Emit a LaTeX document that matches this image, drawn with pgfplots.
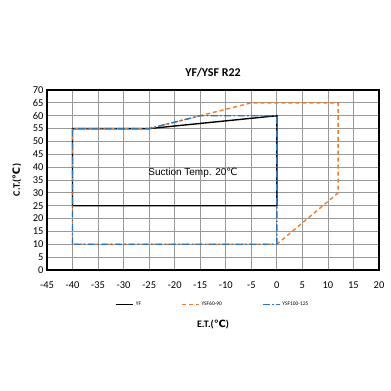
\documentclass[border=0pt]{standalone}
\usepackage{pgfplots}
\pgfplotsset{compat=1.18}
\usepackage{fontspec}
\setmainfont{Carlito}
\newfontfamily\arial{Liberation Sans}
\newfontfamily\dejavu{DejaVu Sans}
\newcommand\degC{{\dejavu ℃}}
\definecolor{xorange}{HTML}{ED7D31}
\definecolor{xblue}{HTML}{2E75B6}
\begin{document}
\begin{tikzpicture}[x=1bp,y=1bp]
\useasboundingbox (-47,-121) rectangle (344,270);
\begin{axis}[
  at={(0,0)}, anchor=south west,
  scale only axis, width=332bp, height=180bp,
  xmin=-45, xmax=20, ymin=0, ymax=70,
  xtick={-45,-40,...,20}, ytick={0,5,...,70},
  grid=major, major grid style={gray!80, line width=0.8pt},
  axis line style={black, line width=1.6pt},
  tick style={draw=none},
  ticklabel style={font=\fontsize{10.5}{12}\selectfont},
  xticklabel style={yshift=-8bp},
  /pgf/number format/assume math mode=true,
  legend columns=3,
  legend style={draw=none, fill=none, at={(0.5,-0.155)}, anchor=north, font=\fontsize{5.5}{6}\selectfont, /tikz/every even column/.append style={column sep=38bp}},
]
\addplot[black, line width=1.4pt] coordinates {(-40,25) (-40,55) (-25,55) (0,60) (0,25) (-40,25)};
\addlegendentry{YF}
\addplot[xorange, line width=1.4pt, dash pattern=on 4pt off 3pt] coordinates {(-40,10) (-40,55) (-25,55) (-5,65) (12,65) (12,30) (0,10) (-40,10)};
\addlegendentry{YSF60-90}
\addplot[xblue, line width=1.4pt, dash pattern=on 7pt off 2.5pt on 1.5pt off 2.5pt] coordinates {(-40,10) (-40,55) (-25,55) (-15,60) (0,60) (0,10) (-40,10)};
\addlegendentry{YSF100-125}
\end{axis}
\node[font=\bfseries\fontsize{12}{14}\selectfont] at (166,197) {YF/YSF R22};
\node[font=\arial\fontsize{10}{12}\selectfont] at (146,97) {Suction Temp. 20\degC};
\node[font=\bfseries\fontsize{10}{12}\selectfont] at (166,-55) {E.T.(\degC)};
\node[font=\bfseries\fontsize{10}{12}\selectfont, rotate=90] at (-30,90) {C.T.(\degC)};
\end{tikzpicture}
\end{document}
